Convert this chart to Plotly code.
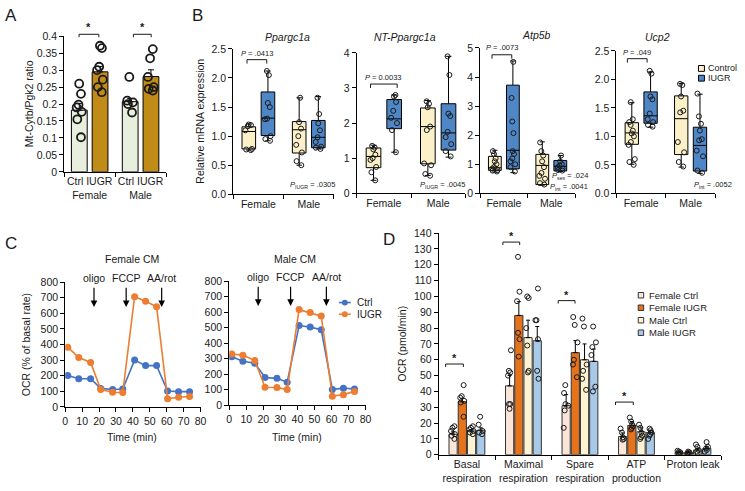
import plotly.graph_objects as go

W, H = 745, 491
FONT = 'Liberation Sans, Arial, sans-serif'
INK = '#1a1a1a'

# ---------------- A: mtDNA content ----------------
a_sex = ['Female', 'Male']
a_ctrl_mean = [0.182, 0.207]
a_ctrl_sem = [0.020, 0.009]
a_iugr_mean = [0.295, 0.281]
a_iugr_sem = [0.016, 0.020]
a_ctrl_pts = [[0.26, 0.23, 0.198, 0.19, 0.177, 0.155, 0.102], [0.28, 0.21, 0.205, 0.20, 0.175]]
a_iugr_pts = [[0.372, 0.365, 0.31, 0.30, 0.272, 0.25, 0.235], [0.362, 0.335, 0.28, 0.25, 0.245, 0.24]]

# ---------------- B: gene expression (box stats: low whisker, q1, median, q3, high whisker) ----------------
b_genes = ['Ppargc1a', 'NT-Ppargc1a', 'Atp5b', 'Ucp2']
b_sex = ['Female', 'Male']

ppargc1a_ctrl_box = [[0.76, 0.78, 1.08, 1.16, 1.21], [0.50, 0.71, 1.11, 1.25, 1.66]]
ppargc1a_iugr_box = [[0.92, 1.01, 1.31, 1.76, 2.12], [0.78, 0.80, 0.98, 1.27, 1.68]]
ppargc1a_ctrl_pts = [[1.2, 1.19, 1.17, 1.1, 0.78, 0.77, 0.76], [1.66, 1.24, 1.13, 1.0, 0.85, 0.72, 0.57, 0.5]]
ppargc1a_iugr_pts = [[2.12, 2.05, 1.57, 1.5, 1.3, 1.29, 1.0, 0.95, 0.92], [1.66, 1.38, 1.22, 1.1, 0.98, 0.9, 0.82, 0.8, 0.78]]

nt_ctrl_box = [[0.37, 0.73, 1.05, 1.29, 1.37], [0.51, 0.84, 1.90, 2.43, 2.64]]
nt_iugr_box = [[1.17, 1.84, 2.12, 2.67, 2.80], [1.03, 1.23, 1.72, 2.55, 3.90]]
nt_ctrl_pts = [[1.35, 1.3, 1.25, 1.1, 1.0, 0.95, 0.75, 0.6, 0.37], [2.62, 2.55, 2.45, 1.9, 1.8, 0.85, 0.8, 0.55, 0.5]]
nt_iugr_pts = [[2.8, 2.75, 2.6, 2.35, 2.15, 2.0, 1.8, 1.17], [3.9, 3.37, 2.27, 2.2, 1.75, 1.6, 1.4, 1.2, 1.05]]

atp5b_ctrl_box = [[0.73, 0.79, 0.88, 1.27, 1.48], [0.28, 0.30, 0.96, 1.34, 1.77]]
atp5b_iugr_box = [[0.71, 0.84, 1.48, 3.72, 4.55], [0.75, 0.77, 0.93, 1.13, 1.30]]
atp5b_ctrl_pts = [[1.45, 1.35, 1.2, 1.1, 1.0, 0.9, 0.85, 0.8, 0.78, 0.75], [1.75, 1.45, 1.3, 1.1, 0.9, 0.7, 0.6, 0.5, 0.35, 0.3]]
atp5b_iugr_pts = [[4.52, 3.28, 2.47, 2.07, 1.45, 1.35, 1.2, 1.1, 1.0, 0.9, 0.75], [1.3, 1.1, 1.0, 0.95, 0.9, 0.85, 0.8, 0.78]]

ucp2_ctrl_box = [[0.51, 0.86, 1.06, 1.24, 1.59], [0.46, 0.68, 1.31, 1.71, 1.93]]
ucp2_iugr_box = [[1.16, 1.23, 1.36, 1.78, 2.13], [0.35, 0.39, 0.84, 1.16, 1.74]]
ucp2_ctrl_pts = [[1.6, 1.3, 1.25, 1.2, 1.1, 1.05, 1.0, 0.9, 0.85, 0.6, 0.55, 0.5], [1.92, 1.9, 1.7, 1.45, 1.42, 0.9, 0.72, 0.55, 0.47]]
ucp2_iugr_pts = [[2.15, 2.1, 1.7, 1.65, 1.4, 1.3, 1.25, 1.2, 1.17], [1.75, 1.35, 1.22, 1.1, 0.95, 0.93, 0.75, 0.65, 0.4, 0.36]]

b_pvals = ['<i>P</i> = .0413', '<i>P</i> = 0.0033', '<i>P</i> = .0073', '<i>P</i> = .049']

# ---------------- C: Seahorse traces ----------------
c_time = [1.5, 8, 15, 21, 28, 34, 41, 47.5, 54, 60.5, 67, 73.5]
c_female_ctrl = [202, 181, 181, 119, 112, 115, 300, 265, 265, 102, 98, 98]
c_female_iugr = [383, 317, 285, 112, 94, 92, 706, 677, 642, 52, 62, 67]
c_male_ctrl = [312, 283, 270, 178, 172, 147, 513, 503, 486, 100, 109, 103]
c_male_iugr = [329, 322, 287, 115, 113, 100, 616, 597, 574, 57, 67, 88]
c_inject = ['oligo', 'FCCP', 'AA/rot']
c_inject_time = [17, 36, 57]

# ---------------- D: respiration parameters ----------------
d_params = ['Basal<br>respiration', 'Maximal<br>respiration', 'Spare<br>respiration', 'ATP<br>production', 'Proton leak']
d_series = ['Female Ctrl', 'Female IUGR', 'Male Ctrl', 'Male IUGR']
d_fc_mean = [13, 43.5, 31, 11.5, 1.5]
d_fc_sem = [1.5, 6.6, 7, 2.3, 0.5]
d_fi_mean = [33.5, 88, 64.5, 18.5, 1.5]
d_fi_sem = [2.2, 8.7, 7.6, 2.5, 0.4]
d_mc_mean = [15, 74, 60, 14.5, 3]
d_mc_sem = [1, 11, 10, 2.5, 1]
d_mi_mean = [15.5, 72, 59, 14, 4]
d_mi_sem = [1.5, 9, 7.8, 1.5, 1.3]
d_fc_pts = [[18, 17, 15, 13, 12, 10], [66, 53, 52, 50, 32, 32, 29], [44, 39, 32, 31, 28, 17], [16.5, 14, 11, 10, 9.5], [2.5, 2, 1.5, 1, 0.5]]
d_fi_pts = [[44, 37, 36, 34, 33, 24], [125, 103, 97, 77, 73, 62], [87, 82, 71, 60, 57, 49], [23.5, 21, 19, 18, 17, 16], [2, 1.5, 1, 1]]
d_mc_pts = [[18, 17, 16, 15, 14, 13], [100, 99, 80, 69, 53, 52], [86, 81, 57, 53, 48, 41], [19, 17, 14, 12, 11, 10], [6.5, 5, 3, 2, 1]]
d_mi_pts = [[24, 19, 15, 14, 13], [105, 85, 85, 73, 53, 48], [81, 71, 68, 63, 43, 40], [16.5, 15.5, 14, 13, 12, 10], [8, 5, 4, 3, 2]]

# colours
A_CTRL, A_IUGR = '#e8efdc', '#c18b18'
B_CTRL, B_IUGR = '#fcf0c8', '#4f86c6'
C_CTRL, C_IUGR = '#4472c4', '#ed7d31'
D_COLS = ['#fae5d9', '#e5731c', '#fdf3d2', '#a9c9e9']

# group offsets (category units)
A_OFF, A_BW = 0.204, 0.31
B_OFF, B_BW = 0.19, 0.27
D_SLOT, D_BW = 0.163, 0.145


def fx(x):
    return x / W


def fy(y):
    return 1 - y / H


def xdom(a, b):
    return [a / W, b / W]


def ydom(top, bottom):
    return [1 - bottom / H, 1 - top / H]


ann, shp = [], []


def text(x, y, s, size=10.5, **kw):
    opts = dict(xanchor='center', yanchor='middle')
    opts.update(kw)
    ann.append(dict(x=fx(x), y=fy(y), xref='paper', yref='paper', text=s, showarrow=False,
                    font=dict(size=size, color=INK, family=FONT), **opts))


def bracket(x0, x1, y, drop=4):
    shp.append(dict(type='path', xref='paper', yref='paper', line=dict(color=INK, width=1),
                    path=f'M {fx(x0)},{fy(y + drop)} L {fx(x0)},{fy(y)} L {fx(x1)},{fy(y)} L {fx(x1)},{fy(y + drop)}'))


def star(x, y):
    text(x, y, '<b>*</b>', size=11)


def pts_box(x, y, xa, ya, width, size=5, lw=1, jitter=0.7):
    return go.Box(x=x, y=y, xaxis=xa, yaxis=ya, width=width, orientation='v', boxpoints='all',
                  jitter=jitter, pointpos=0, fillcolor='rgba(0,0,0,0)', line=dict(color='rgba(0,0,0,0)'),
                  marker=dict(symbol='circle-open', size=size, color=INK, line=dict(width=lw)),
                  showlegend=False, hoverinfo='skip')


def axis(**kw):
    d = dict(showline=True, linecolor='black', linewidth=1, ticks='outside', ticklen=4, tickwidth=1,
             tickcolor='black', showgrid=False, zeroline=False, fixedrange=True,
             tickfont=dict(size=10.5, color=INK, family=FONT))
    d.update(kw)
    return d


def cat_axis(n, labels, dom, anchor, **kw):
    return axis(domain=dom, anchor=anchor, range=[-0.5, n - 0.5], tickmode='array',
                tickvals=list(range(n)), ticktext=labels, ticks='',
                minor=dict(tickmode='array', tickvals=[i - 0.5 for i in range(n + 1)], ticks='outside',
                           ticklen=4, tickcolor='black', tickwidth=1), **kw)


fig = go.Figure()

# ---------------- A ----------------
for mean, sem, pts, off, col in [(a_ctrl_mean, a_ctrl_sem, a_ctrl_pts, -A_OFF, A_CTRL),
                                 (a_iugr_mean, a_iugr_sem, a_iugr_pts, A_OFF, A_IUGR)]:
    xs = [i + off for i in range(len(a_sex))]
    fig.add_trace(go.Bar(x=xs, y=mean, width=A_BW, xaxis='x', yaxis='y', showlegend=False,
                         marker=dict(color=col, line=dict(color='black', width=1)),
                         error_y=dict(type='data', array=sem, arrayminus=[0] * len(sem), symmetric=False,
                                      color='black', thickness=1, width=3)))
    for i, p in enumerate(pts):
        fig.add_trace(pts_box([xs[i]] * len(p), p, 'x', 'y', A_BW * 0.75, size=8, lw=1.8, jitter=0.6))

# ---------------- B ----------------
b_ctrl_box = [ppargc1a_ctrl_box, nt_ctrl_box, atp5b_ctrl_box, ucp2_ctrl_box]
b_iugr_box = [ppargc1a_iugr_box, nt_iugr_box, atp5b_iugr_box, ucp2_iugr_box]
b_ctrl_pts = [ppargc1a_ctrl_pts, nt_ctrl_pts, atp5b_ctrl_pts, ucp2_ctrl_pts]
b_iugr_pts = [ppargc1a_iugr_pts, nt_iugr_pts, atp5b_iugr_pts, ucp2_iugr_pts]
for g in range(len(b_genes)):
    xa, ya = f'x{g + 2}', f'y{g + 2}'
    for boxes, pts, off, col in [(b_ctrl_box[g], b_ctrl_pts[g], -B_OFF, B_CTRL),
                                 (b_iugr_box[g], b_iugr_pts[g], B_OFF, B_IUGR)]:
        xs = [i + off for i in range(len(b_sex))]
        fig.add_trace(go.Box(x=xs, lowerfence=[b[0] for b in boxes], q1=[b[1] for b in boxes],
                             median=[b[2] for b in boxes], q3=[b[3] for b in boxes],
                             upperfence=[b[4] for b in boxes], width=B_BW, orientation='v',
                             boxpoints=False, whiskerwidth=0.4, fillcolor=col,
                             line=dict(color='black', width=1), xaxis=xa, yaxis=ya,
                             showlegend=False, hoverinfo='skip'))
        for i, p in enumerate(pts):
            fig.add_trace(pts_box([xs[i]] * len(p), p, xa, ya, B_BW, size=5, lw=1, jitter=0.6))

# ---------------- C ----------------
for xa, ya, ctrl, iugr in [('x6', 'y6', c_female_ctrl, c_female_iugr), ('x7', 'y7', c_male_ctrl, c_male_iugr)]:
    for vals, col in [(ctrl, C_CTRL), (iugr, C_IUGR)]:
        fig.add_trace(go.Scatter(x=c_time, y=vals, mode='lines+markers', xaxis=xa, yaxis=ya,
                                 line=dict(color=col, width=1.6), marker=dict(color=col, size=7),
                                 showlegend=False, hoverinfo='skip'))
    for lab, t in zip(c_inject, c_inject_time):
        ann.append(dict(x=t, y=640, ax=t, ay=825, xref=xa, yref=ya, axref=xa, ayref=ya, text=lab,
                        showarrow=True, arrowhead=2, arrowsize=1.1, arrowwidth=1.2, arrowcolor='black',
                        standoff=0, startstandoff=2, font=dict(size=10.5, color=INK, family=FONT)))

# ---------------- D ----------------
d_means = [d_fc_mean, d_fi_mean, d_mc_mean, d_mi_mean]
d_sems = [d_fc_sem, d_fi_sem, d_mc_sem, d_mi_sem]
d_pts = [d_fc_pts, d_fi_pts, d_mc_pts, d_mi_pts]
for k in range(len(d_series)):
    xs = [i + (k - 1.5) * D_SLOT for i in range(len(d_params))]
    fig.add_trace(go.Bar(x=xs, y=d_means[k], width=D_BW, xaxis='x8', yaxis='y8', showlegend=False,
                         marker=dict(color=D_COLS[k], line=dict(color='#333333', width=1)),
                         error_y=dict(type='data', array=d_sems[k], arrayminus=[0] * len(d_sems[k]),
                                      symmetric=False, color='black', thickness=1, width=2)))
    px_, py_ = [], []
    for i, p in enumerate(d_pts[k]):
        px_ += [xs[i]] * len(p)
        py_ += p
    fig.add_trace(pts_box(px_, py_, 'x8', 'y8', D_BW, size=5, lw=1, jitter=0.6))

# ---------------- axes ----------------
lay = dict(
    xaxis=cat_axis(2, ['Ctrl IUGR<br>Female', 'Ctrl IUGR<br>Male'], xdom(62, 165), 'y'),
    yaxis=axis(domain=ydom(31, 170), anchor='x', range=[0, 0.4], dtick=0.05),
    xaxis6=axis(domain=xdom(63, 200), anchor='y6', range=[0, 80], dtick=10),
    yaxis6=axis(domain=ydom(283, 411), anchor='x6', range=[0, 800], dtick=100),
    xaxis7=axis(domain=xdom(229, 367), anchor='y7', range=[0, 80], dtick=10),
    yaxis7=axis(domain=ydom(282, 409), anchor='x7', range=[0, 800], dtick=100),
    xaxis8=cat_axis(5, d_params, xdom(441, 727), 'y8'),
    yaxis8=axis(domain=ydom(232.8, 460), anchor='x8', range=[0, 140], dtick=10),
)
b_x = [(233, 335), (358, 468), (483, 579), (621, 721)]
b_y = [(44, 193), (48, 192), (43, 192), (46, 192)]
b_rng = [(2.5, 0.5, '.1f'), (4, 1, 'd'), (5, 1, 'd'), (2.5, 0.5, '.1f')]
for g in range(4):
    lay[f'xaxis{g + 2}'] = cat_axis(2, b_sex, xdom(*b_x[g]), f'y{g + 2}')
    lay[f'yaxis{g + 2}'] = axis(domain=ydom(*b_y[g]), anchor=f'x{g + 2}', range=[0, b_rng[g][0]],
                                dtick=b_rng[g][1], tickformat=b_rng[g][2])

# ---------------- text & decorations ----------------
for s, x, y in [('A', 8, 10), ('B', 197, 10), ('C', 8, 243), ('D', 391, 239)]:
    text(x, y, s, size=17)

# A
text(26, 100, 'Mt-Cytb/Pgk2 ratio', textangle=-90)
bracket(77, 97, 29, 3)
bracket(132, 150, 29, 3)
star(87, 22)
star(141, 22)

# B
text(200, 118, 'Relative mRNA expression', textangle=-90)
for g, (cx, cy) in enumerate([(288, 32), (407, 32), (540, 30), (663, 32)]):
    text(cx, cy, f'<i>{b_genes[g]}</i>')
for g, (x0, x1, yb, yt) in enumerate([(247, 267, 55, 49), (372, 399, 80, 73), (495, 515, 50, 43), (632, 652, 54, 48)]):
    bracket(x0, x1, yb, 4)
    text((x0 + x1) / 2, yt, b_pvals[g], size=7.5)
text(338, 183, '<i>P</i><sub>IUGR</sub> = .0305', size=7.5, xanchor='right')
text(470, 183, '<i>P</i><sub>IUGR</sub> = .0045', size=7.5, xanchor='right')
text(594, 174.5, '<i>P</i><sub>sex</sub> = .024', size=7.5, xanchor='right')
text(594, 185.5, '<i>P</i><sub>int</sub> = .0041', size=7.5, xanchor='right')
text(740, 183, '<i>P</i><sub>int</sub> = .0052', size=7.5, xanchor='right')
for lab, col, y in [('Control', B_CTRL, 64), ('IUGR', B_IUGR, 74)]:
    shp.append(dict(type='rect', xref='paper', yref='paper', x0=fx(704), x1=fx(710), y0=fy(y + 3), y1=fy(y - 3),
                    fillcolor=col, line=dict(color='black', width=1)))
    text(712, y, lab, size=9, xanchor='left')

# C
text(23, 347, 'OCR (% of basal rate)', textangle=-90)
text(131, 259, 'Female CM')
text(296, 259, 'Male CM')
text(131, 442, 'Time (min)')
text(298, 442, 'Time (min)')
for lab, col, y in [('Ctrl', C_CTRL, 304), ('IUGR', C_IUGR, 316)]:
    shp.append(dict(type='line', xref='paper', yref='paper', x0=fx(340), x1=fx(352), y0=fy(y), y1=fy(y),
                    line=dict(color=col, width=1.6)))
    shp.append(dict(type='circle', xref='paper', yref='paper', x0=fx(343), x1=fx(349), y0=fy(y + 3), y1=fy(y - 3),
                    fillcolor=col, line=dict(color=col, width=0)))
    text(356, y, lab, size=10, xanchor='left')

# D
text(403, 346, 'OCR (pmol/min)', textangle=-90)
for x0, x1, yb in [(448, 466, 367), (506, 523, 242), (562, 579, 302), (620, 638, 406)]:
    bracket(x0, x1, yb, 3)
    star((x0 + x1) / 2, yb - 6)
for k, lab in enumerate(d_series):
    y = 296.5 + 12.8 * k
    shp.append(dict(type='rect', xref='paper', yref='paper', x0=fx(643), x1=fx(648.5), y0=fy(y + 2.8), y1=fy(y - 2.8),
                    fillcolor=D_COLS[k], line=dict(color='#333333', width=1)))
    text(652, y, lab, size=9.5, xanchor='left')

lay.update(dict(width=W, height=H, margin=dict(l=0, r=0, t=0, b=0), paper_bgcolor='white',
                plot_bgcolor='white', barmode='overlay', boxmode='overlay',
                font=dict(family=FONT, size=10.5, color=INK), annotations=ann, shapes=shp,
                showlegend=False))
fig.update_layout(**lay)
# the page body has a default 8px margin; drop it so the figure sits at the window origin
fig.write_html('out.html', config={'displayModeBar': False},
               post_script="document.body.style.margin='0';")
